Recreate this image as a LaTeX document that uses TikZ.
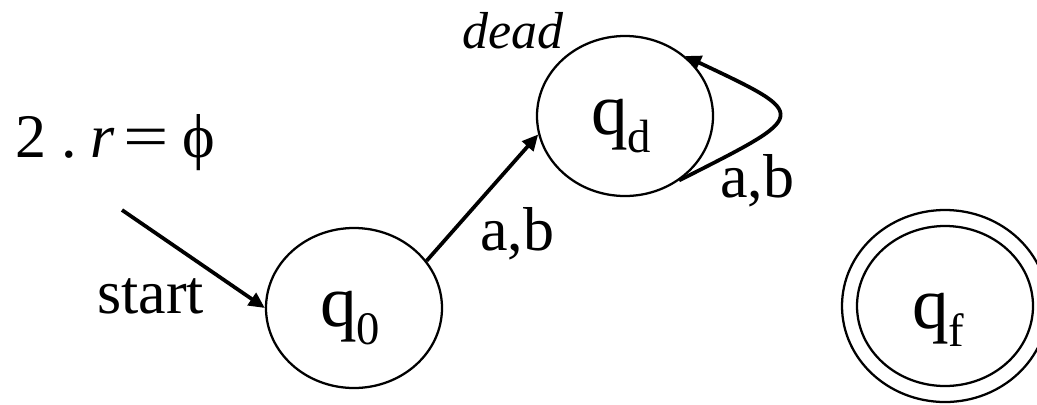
\documentclass[tikz,border=0pt]{standalone}
\usepackage{fontspec}
\setmainfont{Liberation Serif}
\usetikzlibrary{arrows.meta,shapes.geometric}
\newcommand{\stname}[3][13.5pt]{\raisebox{-#1}[0pt][0pt]{\fontsize{55}{55}\selectfont #2\raisebox{-13.5pt}{\fontsize{35}{35}\selectfont #3}\kern6pt}}
\begin{document}
\begin{tikzpicture}[x=0.75pt,y=-0.75pt,
  state/.style={draw, line width=1.7pt, ellipse, minimum width=132pt, minimum height=120pt, inner sep=0pt},
  outerring/.style={draw, line width=1.7pt, ellipse, minimum width=154.5pt, minimum height=144pt, inner sep=0pt},
  conn/.style={line width=2.8pt, -{Triangle[length=12pt,width=11pt]}},
  lbl/.style={inner sep=0pt, font=\fontsize{46.5}{46.5}\selectfont}]
\useasboundingbox (0,0) rectangle (1037,404);
\node[state] (q0) at (354,308) {\stname{q}{0}};
\node[state] (qd) at (625,116) {\stname{q}{d}};
\node[state] (qf) at (945,306) {\stname[17pt]{q}{f}\kern4pt};
\node[outerring] (qfo) at (qf) {};
\coordinate (s) at (122,210);
\draw[conn] (s) -- (q0.west);
\draw[conn] (q0.33) -- (qd.192);
\draw[conn] (qd.-50) .. controls (810,114) and (812,116) .. (qd.45);
\node[lbl, anchor=base west] (title) at (15,157) {2 .\kern0.21em\textit{r}\kern0.15em\scalebox{1.3}[1]{=}\kern0.22emϕ};
\node[lbl, anchor=base west] (start) at (97,313) {start};
\node[lbl, anchor=base west] (ab1) at (480,250) {a,b};
\node[lbl, anchor=base west] (ab2) at (720,197) {a,b};
\node[inner sep=0pt, anchor=base west, font=\fontsize{39}{39}\selectfont\itshape] (dead) at (462,48) {dead};
\end{tikzpicture}
\end{document}
